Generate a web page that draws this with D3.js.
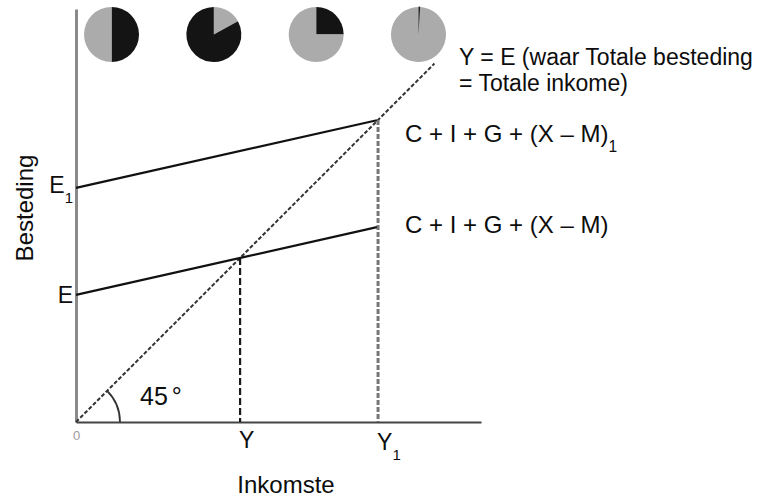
<!DOCTYPE html>
<html>
<head>
<meta charset="utf-8">
<script src="https://cdn.jsdelivr.net/npm/d3@7"></script>
<style>
  body { margin: 0; background: #fff; }
  text { font-family: "Liberation Sans", Arial, sans-serif; fill: #0d0d0d; }
</style>
</head>
<body>
<svg id="chart" width="779" height="497"></svg>
<script>
// income / spending values (chart units)
const intercepts = [31.4, 57.8];          // E, E1
const spendSlope = 0.225;                 // slope of C + I + G + (X - M)
const spendLabels = ["C + I + G + (X \u2013 M)", "C + I + G + (X \u2013 M)"];
const spendSubs = ["", "1"];
const lineEnd = [74.3, 74.3];             // where each spending line stops
const diagonalEnd = 88.5;                 // end of the Y = E line
const incomeLabels = ["Y", "Y"];
const incomeSubs = ["", "1"];
const spendTickLabels = ["E", "E"];
const spendTickSubs = ["", "1"];

// little pies along the top: slices clockwise from 12 o'clock
const pieParts = [
  [{ k: "dark", v: 50 }, { k: "light", v: 50 }],
  [{ k: "light", v: 17 }, { k: "dark", v: 83 }],
  [{ k: "dark", v: 25 }, { k: "light", v: 75 }],
  [{ k: "dark", v: 1 }, { k: "light", v: 99 }]
];

const svg = d3.select("#chart");

const x = d3.scaleLinear().domain([0, 100]).range([76, 481]);
const y = d3.scaleLinear().domain([0, 102]).range([422, 8.9]);

// equilibrium income for each spending line
const equilibria = intercepts.map(e => e / (1 - spendSlope));

// axes (domain line only)
svg.append("g")
  .attr("transform", `translate(${x(0)},0)`)
  .call(d3.axisLeft(y).tickValues([]).tickSizeOuter(0))
  .select(".domain").attr("stroke", "#8a8a8a").attr("stroke-width", 3);

svg.append("g")
  .attr("transform", `translate(0,${y(0)})`)
  .call(d3.axisBottom(x).tickValues([]).tickSizeOuter(0))
  .select(".domain").attr("stroke", "#444").attr("stroke-width", 2);

// pies
const pie = d3.pie().value(d => d.v).sort(null);
const arc = d3.arc().innerRadius(0).outerRadius(27.5);
const pieX = d3.scalePoint().domain(d3.range(pieParts.length)).range([111.5, 418.5]);
const colour = { dark: "#141414", light: "#ababab" };

pieParts.forEach((parts, i) => {
  svg.append("g")
    .attr("transform", `translate(${pieX(i)},34.5)`)
    .selectAll("path")
    .data(pie(parts))
    .join("path")
    .attr("d", arc)
    .attr("fill", d => colour[d.data.k])
    .attr("stroke", d => d.data.k === "dark" && d.data.v < 5 ? "#333" : "none")
    .attr("stroke-width", 1);
});

// 45 degree line
svg.append("line")
  .attr("x1", x(0)).attr("y1", y(0))
  .attr("x2", x(diagonalEnd)).attr("y2", y(diagonalEnd))
  .attr("stroke", "#333").attr("stroke-width", 2)
  .attr("stroke-dasharray", "4,2");

// 45 degree arc
const angleArc = d3.arc().innerRadius(44).outerRadius(44)
  .startAngle(Math.PI / 4).endAngle(Math.PI / 2);
svg.append("path")
  .attr("transform", `translate(${x(0)},${y(0)})`)
  .attr("d", angleArc)
  .attr("fill", "none").attr("stroke", "#333").attr("stroke-width", 1.8);

// vertical dashed drops
svg.selectAll("line.drop")
  .data(equilibria)
  .join("line")
  .attr("class", "drop")
  .attr("x1", d => x(d)).attr("x2", d => x(d))
  .attr("y1", d => y(d)).attr("y2", y(0))
  .attr("stroke", (d, i) => i === 0 ? "#1a1a1a" : "#777")
  .attr("stroke-width", (d, i) => i === 0 ? 2.2 : 3)
  .attr("stroke-dasharray", (d, i) => i === 0 ? "7,3" : "5,2");

// spending lines
svg.selectAll("line.spend")
  .data(intercepts)
  .join("line")
  .attr("class", "spend")
  .attr("x1", x(0)).attr("y1", d => y(d))
  .attr("x2", (d, i) => x(lineEnd[i]))
  .attr("y2", (d, i) => y(d + spendSlope * lineEnd[i]))
  .attr("stroke", "#111").attr("stroke-width", 2.2);

// text helper with subscript
function label(tx, ty, main, sub, size, anchor) {
  const t = svg.append("text")
    .attr("x", tx).attr("y", ty)
    .attr("font-size", size)
    .attr("text-anchor", anchor || "start")
    .text(main);
  if (sub) {
    t.append("tspan").attr("dy", 10).attr("font-size", size * 0.65).text(sub);
  }
  return t;
}

// spending line labels
const labelY = [233, 142];
spendLabels.forEach((s, i) => label(405, labelY[i], s, spendSubs[i], 24));

// axis value labels
const tickOffset = [8, 5];
intercepts.forEach((e, i) =>
  label(73, y(e) + tickOffset[i], spendTickLabels[i], spendTickSubs[i], 23, "end"));
equilibria.forEach((v, i) =>
  label(x(v) - 1, y(0) + 26 + i * 2, incomeLabels[i], incomeSubs[i], 23));

svg.append("text")
  .attr("x", x(0) + 0.5).attr("y", y(0) + 18)
  .attr("font-size", 13).attr("text-anchor", "middle")
  .style("fill", "#9a9a9a")
  .text("0");

// 45° label
svg.append("text")
  .attr("x", 140).attr("y", 405)
  .attr("font-size", 25)
  .text("45")
  .append("tspan").attr("dx", 4).text("°");

// Y = E label
const yeText = svg.append("text").attr("font-size", 23);
yeText.append("tspan").attr("x", 459).attr("y", 65).text("Y = E (waar Totale besteding");
yeText.append("tspan").attr("x", 459).attr("y", 91).text("= Totale inkome)");

// axis titles
svg.append("text")
  .attr("x", 286).attr("y", 493)
  .attr("font-size", 24).attr("text-anchor", "middle")
  .text("Inkomste");

svg.append("text")
  .attr("transform", "translate(33,208) rotate(-90)")
  .attr("font-size", 24).attr("text-anchor", "middle")
  .text("Besteding");
</script>
</body>
</html>
